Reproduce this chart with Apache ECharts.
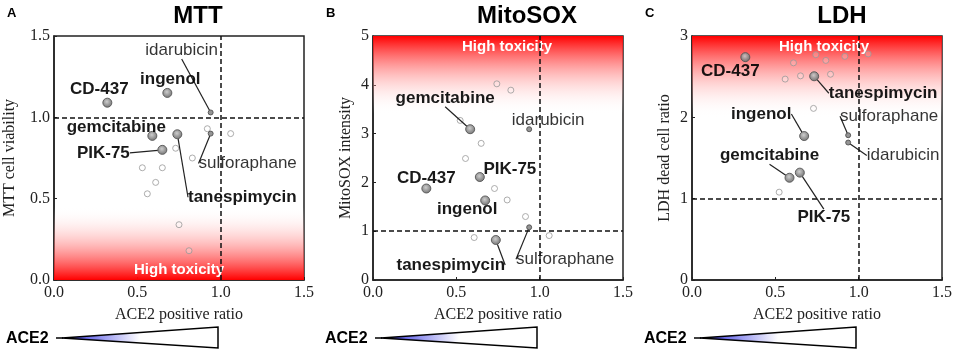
<!DOCTYPE html>
<html>
<head>
<meta charset="utf-8">
<script src="https://cdn.jsdelivr.net/npm/echarts@6/dist/echarts.min.js"></script>
<style>
  html, body { margin: 0; padding: 0; background: #fff; }
  #chart { width: 957px; height: 352px; }
</style>
</head>
<body>
<div id="chart"></div>
<script>
var chartDom = document.getElementById('chart');
var myChart = echarts.init(chartDom);

// compounds
var mainDrugs = ['CD-437', 'ingenol', 'gemcitabine', 'PIK-75', 'tanespimycin'];
var minorDrugs = ['idarubicin', 'sulforaphane'];

// [ACE2 positive ratio, readout]
var mttMain = [[0.32, 1.09], [0.68, 1.15], [0.59, 0.886], [0.65, 0.80], [0.74, 0.896]];
var mttMinor = [[0.94, 1.03], [0.94, 0.90]];
var mttOther = [[0.92, 0.93], [1.06, 0.90], [0.73, 0.81], [0.83, 0.75], [0.53, 0.69],
    [0.65, 0.69], [0.61, 0.60], [0.56, 0.53], [0.75, 0.34], [0.81, 0.18]];

var mitoMain = [[0.32, 1.875], [0.673, 1.63], [0.583, 3.09], [0.641, 2.11], [0.737, 0.82]];
var mitoMinor = [[0.937, 3.09], [0.937, 1.08]];
var mitoOther = [[0.743, 4.02], [0.827, 3.89], [0.523, 3.27], [0.649, 2.80], [0.555, 2.49],
    [0.729, 1.875], [0.805, 1.64], [0.915, 1.30], [0.607, 0.87], [1.057, 0.91]];

var ldhMain = [[0.32, 2.74], [0.673, 1.77], [0.585, 1.257], [0.647, 1.32], [0.733, 2.505]];
var ldhMinor = [[0.937, 1.69], [0.937, 1.78]];
var ldhOther = [[0.609, 2.67], [0.743, 2.77], [0.803, 2.70], [0.917, 2.75], [1.057, 2.78],
    [0.559, 2.47], [0.651, 2.51], [0.831, 2.53], [0.729, 2.11], [0.523, 1.08]];

// axis ranges and "high toxicity" bands
var xRange = [0, 1.5];
var mttRange = [0, 1.5];
var mitoRange = [0, 5];
var ldhRange = [0, 3];
var mttTox = [0, 0.45];
var mitoTox = [3.4, 5];
var ldhTox = [2.0, 3];

// label offsets [dx, dy, leader line] (main drugs first, then minor)
var mttLabels = [[-8, -13, 0], [3, -14, 0], [-36, -9, 0], [-59, 3, 1], [65, 63, 1], [-29, -62, 1], [37, 30, 1]];
var mitoLabels = [[0, -10, 0], [-18, 9, 0], [-25, -31, 1], [30, -8, 0], [-45, 25, 1], [19, -9, 0], [36, 32, 1]];
var ldhLabels = [[-15, 14, 0], [-43, -22, 1], [-20, -22, 1], [24, 45, 1], [69, 17, 1], [55, 13, 1], [41, -19, 1]];

var panels = [
    { key: 'A', title: 'MTT', yName: 'MTT cell viability', main: mttMain, minor: mttMinor, other: mttOther,
      range: mttRange, interval: 0.5, digits: 1, tox: mttTox, toxBottom: true, labels: mttLabels,
      left: 54, nameGap: 36, titleX: 198, toxOffset: 0 },
    { key: 'B', title: 'MitoSOX', yName: 'MitoSOX intensity', main: mitoMain, minor: mitoMinor, other: mitoOther,
      range: mitoRange, interval: 1, digits: 0, tox: mitoTox, toxBottom: false, labels: mitoLabels,
      left: 373, nameGap: 19, titleX: 527, toxOffset: 9 },
    { key: 'C', title: 'LDH', yName: 'LDH dead cell ratio', main: ldhMain, minor: ldhMinor, other: ldhOther,
      range: ldhRange, interval: 1, digits: 0, tox: ldhTox, toxBottom: false, labels: ldhLabels,
      left: 692, nameGap: 19, titleX: 842, toxOffset: 7 }
];

var serif = 'Liberation Serif';
var sans = 'Liberation Sans';

var grids = [], xAxes = [], yAxes = [], series = [], graphics = [];

panels.forEach(function (p, i) {
    grids.push({ left: p.left, top: 36, width: 250, height: 244, show: true,
        borderColor: '#222', borderWidth: 1.5, backgroundColor: 'transparent' });

    xAxes.push({
        gridIndex: i, type: 'value', min: xRange[0], max: xRange[1], interval: 0.5,
        name: 'ACE2 positive ratio', nameLocation: 'middle', nameGap: 27,
        nameTextStyle: { fontFamily: serif, fontSize: 16, color: '#222' },
        axisLine: { show: true, lineStyle: { color: '#222', width: 1.5 } },
        axisTick: { show: true, inside: true, length: 3, lineStyle: { color: '#222' } },
        axisLabel: { margin: 5, fontFamily: serif, fontSize: 16, color: '#222',
            formatter: function (v) { return v.toFixed(1); } },
        splitLine: { show: false }
    });

    yAxes.push({
        gridIndex: i, type: 'value', min: p.range[0], max: p.range[1], interval: p.interval,
        name: p.yName, nameLocation: 'middle', nameGap: p.nameGap,
        nameTextStyle: { fontFamily: serif, fontSize: 16, color: '#222' },
        axisLine: { show: true, lineStyle: { color: '#222', width: 1.5 } },
        axisTick: { show: true, inside: true, length: 3, lineStyle: { color: '#222' } },
        axisLabel: { margin: 4, fontFamily: serif, fontSize: 16, color: '#222',
            formatter: function (v) { return v.toFixed(p.digits); } },
        splitLine: { show: false }
    });

    var redTop = {
        type: 'linear', x: 0, y: 0, x2: 0, y2: 1,
        colorStops: p.toxBottom
            ? [{ offset: 0, color: 'rgba(255,255,255,0)' }, { offset: 1, color: '#ff0000' }]
            : [{ offset: 0, color: '#ff0000' }, { offset: 1, color: 'rgba(255,255,255,0)' }]
    };

    // background points + toxicity band + dashed thresholds
    series.push({
        type: 'scatter', xAxisIndex: i, yAxisIndex: i, z: 2,
        data: p.other, symbolSize: 6,
        itemStyle: { color: 'rgba(255,255,255,0.25)', borderColor: '#999', borderWidth: 1 },
        silent: true,
        markArea: {
            silent: true,
            itemStyle: { color: redTop, opacity: 1 },
            label: {
                show: true, position: p.toxBottom ? 'insideBottom' : 'insideTop',
                distance: 3, offset: [p.toxOffset, 0],
                color: '#fff', fontFamily: sans, fontWeight: 'bold', fontSize: 15
            },
            data: [[{ name: 'High toxicity', xAxis: xRange[0], yAxis: p.tox[0] },
                    { xAxis: xRange[1], yAxis: p.tox[1] }]]
        },
        markLine: {
            silent: true, symbol: 'none', animation: false,
            label: { show: false },
            lineStyle: { color: '#111', type: [5, 3], width: 1.5 },
            data: [{ xAxis: 1 }, { yAxis: 1 }]
        }
    });

    var labelFor = function (bold) {
        return {
            show: true, position: 'inside', formatter: '{b}',
            color: '#000', textBorderWidth: 0, textBorderColor: 'transparent',
            fontFamily: sans, fontSize: 17, fontWeight: bold ? 'bold' : 'normal'
        };
    };

    series.push({
        type: 'scatter', xAxisIndex: i, yAxisIndex: i, z: 4,
        data: p.main.map(function (d, k) {
            return { name: mainDrugs[k], value: d, labelLine: { show: !!p.labels[k][2] } };
        }),
        symbolSize: 9,
        itemStyle: {
            color: { type: 'radial', x: 0.45, y: 0.4, r: 0.6,
                colorStops: [{ offset: 0, color: '#c8c8c8' }, { offset: 0.6, color: '#8a8a8a' }, { offset: 1, color: '#666' }] },
            borderColor: '#555', borderWidth: 1, opacity: 0.9
        },
        label: labelFor(true),
        labelLine: { show: true, lineStyle: { color: '#222', width: 1.2 } },
        labelLayout: function (params) {
            var o = p.labels[params.dataIndex];
            return { dx: o[0], dy: o[1] };
        }
    });

    series.push({
        type: 'scatter', xAxisIndex: i, yAxisIndex: i, z: 4,
        data: p.minor.map(function (d, k) {
            return { name: minorDrugs[k], value: d, labelLine: { show: !!p.labels[k + 5][2] } };
        }),
        symbolSize: 5,
        itemStyle: { color: '#7a7a7a', borderColor: '#444', borderWidth: 1 },
        label: labelFor(false),
        labelLine: { show: true, lineStyle: { color: '#222', width: 1.2 } },
        labelLayout: function (params) {
            var o = p.labels[params.dataIndex + 5];
            return { dx: o[0], dy: o[1] };
        }
    });

    var off = p.left - 54;
    graphics.push({
        type: 'text', left: off + 7, top: 7,
        style: { text: p.key, fontFamily: sans, fontWeight: 'bold', fontSize: 13, fill: '#000' }
    });
    graphics.push({
        type: 'text', x: p.titleX, y: 16,
        style: { text: p.title, fontFamily: sans, fontWeight: 'bold', fontSize: 24, fill: '#000',
            textAlign: 'center', textVerticalAlign: 'middle' }
    });
    // ACE2 gradient wedge
    graphics.push({
        type: 'text', x: off + 6, y: 339,
        style: { text: 'ACE2', fontFamily: sans, fontWeight: 'bold', fontSize: 16, fill: '#000',
            textVerticalAlign: 'middle' }
    });
    graphics.push({
        type: 'line', shape: { x1: off + 56, y1: 338, x2: off + 63, y2: 338 },
        style: { stroke: '#000', lineWidth: 1.5 }
    });
    graphics.push({
        type: 'polygon',
        shape: { points: [[off + 62, 338], [off + 218, 327], [off + 218, 348]] },
        style: {
            fill: { type: 'linear', x: 0, y: 0, x2: 1, y2: 0,
                colorStops: [{ offset: 0, color: '#1a1ad8' }, { offset: 0.12, color: '#5a5ae8' },
                             { offset: 0.5, color: '#ffffff' }, { offset: 1, color: '#ffffff' }] },
            stroke: '#000', lineWidth: 1.5
        }
    });
});

var option = {
    backgroundColor: '#fff',
    animation: false,
    grid: grids,
    xAxis: xAxes,
    yAxis: yAxes,
    series: series,
    graphic: graphics
};

myChart.setOption(option);
window.addEventListener('resize', function () {
    myChart.resize();
});
</script>
</body>
</html>
